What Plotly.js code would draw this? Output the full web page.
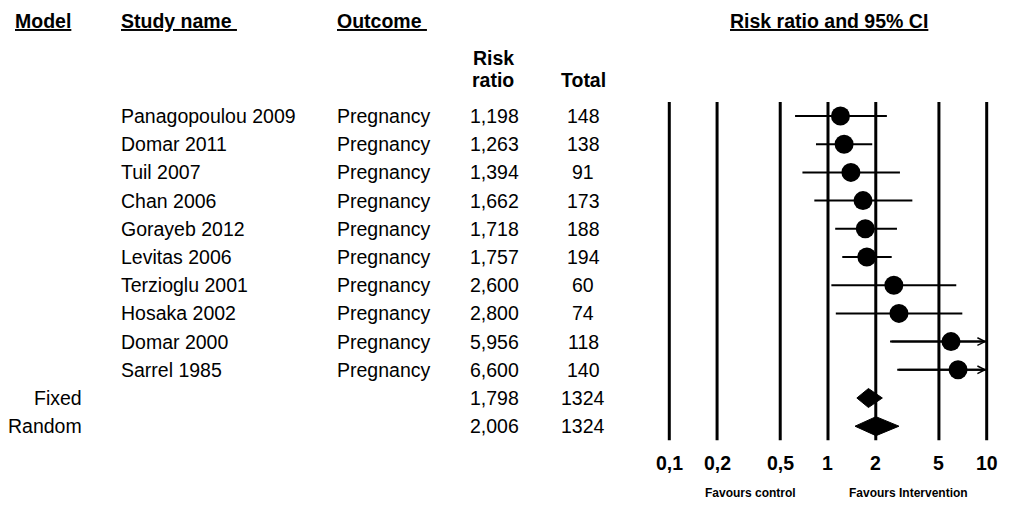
<!DOCTYPE html>
<html><head><meta charset="utf-8">
<script src="https://cdn.plot.ly/plotly-3.0.1.min.js"></script>
<style>html,body{margin:0;padding:0;background:#fff}</style>
</head><body><div id="chart" style="width:1027px;height:530px"></div>
<script>
// ---- data ----
const studies = ['Panagopoulou 2009','Domar 2011','Tuil 2007','Chan 2006','Gorayeb 2012','Levitas 2006','Terzioglu 2001','Hosaka 2002','Domar 2000','Sarrel 1985'];
const outcomes = ['Pregnancy','Pregnancy','Pregnancy','Pregnancy','Pregnancy','Pregnancy','Pregnancy','Pregnancy','Pregnancy','Pregnancy'];
const riskRatio = [1.198,1.263,1.394,1.662,1.718,1.757,2.600,2.800,5.956,6.600];
const ciLower = [0.62,0.84,0.69,0.82,1.11,1.23,1.05,1.12,2.46,2.73];
const ciUpper = [2.35,1.90,2.84,3.40,2.72,2.52,6.43,7.02,14.4,16.0];
const totals = [148,138,91,173,188,194,60,74,118,140];
const summaryModels = ['Fixed','Random'];
const summaryRR = [1.798,2.006];
const summaryLower = [1.52,1.48];
const summaryUpper = [2.20,2.80];
const summaryTotals = [1324,1324];
const tickVals = [0.1,0.2,0.5,1,2,5,10];
const tickLabels = ['0,1','0,2','0,5','1','2','5','10'];
const axisMin = 0.1, axisMax = 10;

// ---- layout helpers ----
const W = 1027, H = 530;
const FONT = 'Liberation Sans, Arial, sans-serif';
const rowTop = 116, rowStep = 28.2;
const px = v => v / W;
const py = v => 1 - v / H;
const xLeftPx = 669.3, pxPerDecade = 158.7, pad = 0.02;
const lmin = Math.log10(axisMin) - pad, lmax = Math.log10(axisMax) + pad;
const domL = (xLeftPx - pad * pxPerDecade) / W;
const domR = (xLeftPx + (lmax - lmin - pad) * pxPerDecade) / W;

const nRows = studies.length + summaryModels.length;
const traces = [];

// vertical reference lines
const vx = [], vy = [];
tickVals.forEach(v => { vx.push(v, v, null); vy.push(-0.5, nRows - 0.5, null); });
traces.push({x: vx, y: vy, mode: 'lines', line: {color: '#000', width: 3}, hoverinfo: 'skip', cliponaxis: false});

// CI lines
const cx = [], cy = [];
studies.forEach((s, i) => { cx.push(ciLower[i], Math.min(ciUpper[i], axisMax), null); cy.push(i, i, null); });
traces.push({x: cx, y: cy, mode: 'lines', line: {color: '#000', width: 2}, hoverinfo: 'skip', cliponaxis: false});

// point estimates
traces.push({x: riskRatio, y: studies.map((s, i) => i), mode: 'markers',
  marker: {color: '#000', size: 19, symbol: 'circle'}, cliponaxis: false, hoverinfo: 'skip'});

// summary diamonds
const dh = 0.337;
summaryModels.forEach((m, k) => {
  const r = studies.length + k;
  traces.push({x: [summaryLower[k], summaryRR[k], summaryUpper[k], summaryRR[k], summaryLower[k]],
    y: [r, r - dh, r, r + dh, r], mode: 'lines', fill: 'toself', fillcolor: '#000',
    line: {color: '#000', width: 1}, hoverinfo: 'skip', cliponaxis: false});
});

const ann = [];
const BODY = 19.5;
const A = (o) => ann.push(Object.assign({showarrow: false, font: {family: FONT, size: BODY, color: '#000'}}, o));
const bold = (t) => '<b>' + t + '</b>';
const HF = {family: FONT, size: 19.5, color: '#000'};

// headers
A({text: bold('<u>Model</u>'), xref: 'paper', yref: 'paper', x: px(13), y: py(21), xanchor: 'left', yanchor: 'middle', font: HF});
A({text: bold('<u>Study name&nbsp;</u>'), xref: 'paper', yref: 'paper', x: px(119), y: py(21), xanchor: 'left', yanchor: 'middle', font: HF});
A({text: bold('<u>Outcome&nbsp;</u>'), xref: 'paper', yref: 'paper', x: px(335), y: py(21), xanchor: 'left', yanchor: 'middle', font: HF});
A({text: bold('<u>Risk ratio and 95% CI</u>'), xref: 'paper', yref: 'paper', x: px(829), y: py(21), xanchor: 'center', yanchor: 'middle', font: HF});
A({text: bold('Risk'), xref: 'paper', yref: 'paper', x: px(493), y: py(58), xanchor: 'center', yanchor: 'middle'});
A({text: bold('ratio'), xref: 'paper', yref: 'paper', x: px(493), y: py(80), xanchor: 'center', yanchor: 'middle'});
A({text: bold('Total'), xref: 'paper', yref: 'paper', x: px(583), y: py(80), xanchor: 'center', yanchor: 'middle'});

const fmt = v => v.toFixed(3).replace('.', ',');
studies.forEach((s, i) => {
  A({text: s, xref: 'paper', yref: 'y', x: px(119), y: i, xanchor: 'left', yanchor: 'middle'});
  A({text: outcomes[i], xref: 'paper', yref: 'y', x: px(335), y: i, xanchor: 'left', yanchor: 'middle'});
  A({text: fmt(riskRatio[i]), xref: 'paper', yref: 'y', x: px(494), y: i, xanchor: 'center', yanchor: 'middle'});
  A({text: String(totals[i]), xref: 'paper', yref: 'y', x: px(583), y: i, xanchor: 'center', yanchor: 'middle'});
  if (ciUpper[i] > axisMax) {
    ann.push({text: '', x: Math.log10(axisMax), y: i, xref: 'x', yref: 'y',
      ax: Math.log10(ciLower[i]), ay: i, axref: 'x', ayref: 'y', showarrow: true,
      arrowhead: 5, arrowwidth: 2, arrowsize: 0.75, arrowcolor: '#000', standoff: 0, startstandoff: 0});
  }
});
summaryModels.forEach((m, k) => {
  const r = studies.length + k;
  A({text: m, xref: 'paper', yref: 'y', x: px(84), y: r, xanchor: 'right', yanchor: 'middle'});
  A({text: fmt(summaryRR[k]), xref: 'paper', yref: 'y', x: px(494), y: r, xanchor: 'center', yanchor: 'middle'});
  A({text: String(summaryTotals[k]), xref: 'paper', yref: 'y', x: px(583), y: r, xanchor: 'center', yanchor: 'middle'});
});

// tick labels
tickVals.forEach((v, i) => {
  A({text: bold(tickLabels[i]), xref: 'x', yref: 'paper', x: Math.log10(v), y: py(463), xanchor: 'center', yanchor: 'middle', font: {family: FONT, size: 19.5, color: '#000'}});
});
A({text: bold('Favours control'), xref: 'paper', yref: 'paper', x: px(750), y: py(493), xanchor: 'center', yanchor: 'middle', font: {family: FONT, size: 12, color: '#000'}});
A({text: bold('Favours Intervention'), xref: 'paper', yref: 'paper', x: px(908), y: py(493), xanchor: 'center', yanchor: 'middle', font: {family: FONT, size: 12, color: '#000'}});

const yTop = -rowTop / rowStep, yBot = (H - rowTop) / rowStep;
const layout = {
  width: W, height: H, margin: {l: 0, r: 0, t: 0, b: 0},
  paper_bgcolor: '#fff', plot_bgcolor: 'rgba(0,0,0,0)',
  showlegend: false,
  font: {family: FONT, size: BODY, color: '#000'},
  xaxis: {type: 'log', range: [lmin, lmax], domain: [domL, domR], visible: false, fixedrange: true},
  yaxis: {range: [yBot, yTop], domain: [0, 1], visible: false, fixedrange: true},
  annotations: ann
};
Plotly.newPlot('chart', traces, layout, {staticPlot: true, displayModeBar: false});
</script>
</body></html>
